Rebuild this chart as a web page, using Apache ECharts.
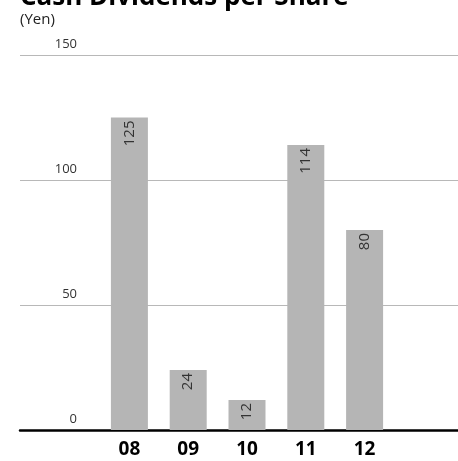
<!DOCTYPE html>
<html><head><meta charset="utf-8">
<script src="https://cdn.jsdelivr.net/npm/echarts@6/dist/echarts.min.js"></script>
<style>html,body{margin:0;padding:0;background:#fff}#c{width:458px;height:461px}</style>
</head><body><div id="c"></div>
<script>
const titleText = 'Cash Dividends per Share';
const unitText = '(Yen)';
const categories = ['08', '09', '10', '11', '12'];
const dividends = [125, 24, 12, 114, 80];
const yTicks = [0, 50, 100, 150];

const FONT = '"Open Sans", "Noto Sans", sans-serif';
const chart = echarts.init(document.getElementById('c'), null, {renderer: 'canvas'});
chart.setOption({
  animation: false,
  title: [
    {text: titleText, left: 20, top: -15, padding: 0, textStyle: {fontFamily: FONT, fontSize: 26, fontWeight: 'bold', color: '#000'}},
    {text: unitText, left: 20, top: 12, padding: 0, textStyle: {fontFamily: FONT, fontSize: 15, fontWeight: 'normal', color: '#222'}}
  ],
  grid: [
    {left: 20, right: 0, top: 55, bottom: 31},
    {left: 100, width: 294, top: 55, bottom: 31}
  ],
  xAxis: [
    {type: 'category', gridIndex: 0, data: [''], axisLine: {lineStyle: {color: '#000', width: 2.5}}, axisTick: {show: false}, axisLabel: {show: false}},
    {type: 'category', gridIndex: 1, data: categories, axisLine: {show: false}, axisTick: {show: false},
     axisLabel: {margin: 10, fontFamily: FONT, fontSize: 19, fontWeight: 'bold', color: '#000'}}
  ],
  yAxis: [
    {type: 'value', gridIndex: 0, min: yTicks[0], max: yTicks[yTicks.length - 1], interval: 50,
     axisLine: {show: false}, axisTick: {show: false},
     splitLine: {lineStyle: {color: '#b8b8b8', width: 1}},
     axisLabel: {margin: -57, align: 'right', verticalAlign: 'bottom', padding: [0, 0, 4, 0], fontFamily: FONT, fontSize: 13, color: '#333',
       formatter: v => yTicks.includes(v) ? String(v) : ''}},
    {type: 'value', gridIndex: 1, min: yTicks[0], max: yTicks[yTicks.length - 1], interval: 50, show: false}
  ],
  series: [{
    type: 'bar', xAxisIndex: 1, yAxisIndex: 1, data: dividends, barWidth: 37,
    itemStyle: {color: '#b5b5b5'},
    label: {show: true, position: 'insideTop', rotate: 90, align: 'right', verticalAlign: 'middle', distance: 3,
      fontFamily: FONT, fontSize: 15, color: '#333'}
  }]
});
</script></body></html>
